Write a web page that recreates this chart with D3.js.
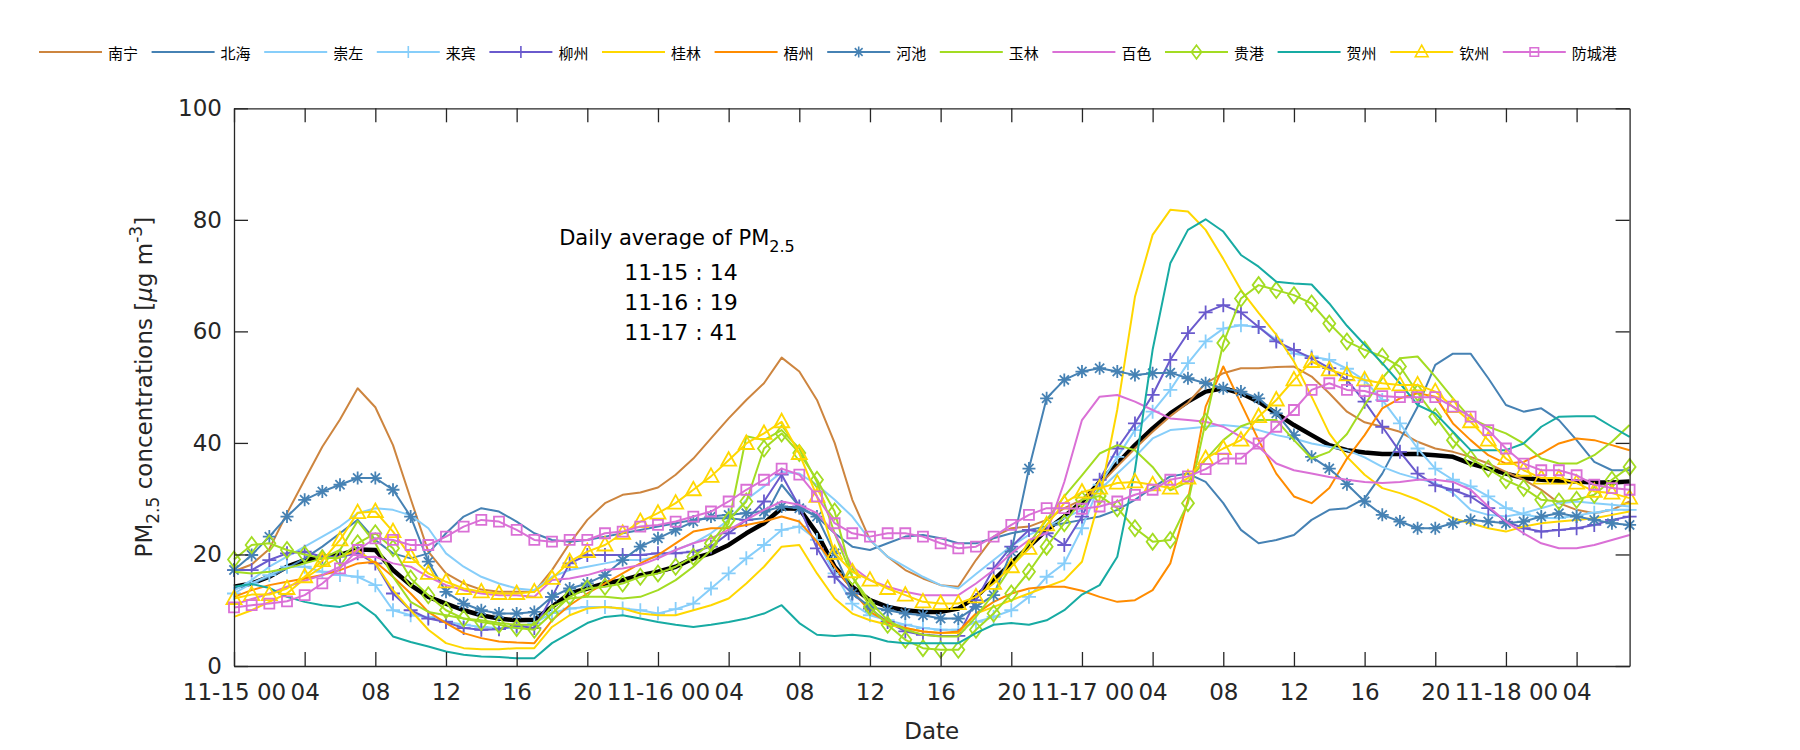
<!DOCTYPE html>
<html><head><meta charset="utf-8">
<script src="https://cdnjs.cloudflare.com/ajax/libs/d3/7.8.5/d3.min.js"></script>
<style>body{margin:0;background:#fff}svg{display:block}</style>
</head><body>
<svg id="c" width="1800" height="750"></svg>
<script>
// ---------------- DATA ----------------
const hours = d3.range(0, 80); // hourly index from 11-15 00
const xTickHours = [0,4,8,12,16,20,24,28,32,36,40,44,48,52,56,60,64,68,72,76];
const xTickLabels = ["11-15 00","04","08","12","16","20","11-16 00","04","08","12","16","20","11-17 00","04","08","12","16","20","11-18 00","04"];
const yTicks = [0,20,40,60,80,100];

const cities = ["南宁","北海","崇左","来宾","柳州","桂林","梧州","河池","玉林","百色","贵港","贺州","钦州","防城港"];
const colors = ["#cd853f","#4682b4","#87cefa","#87cefa","#6a5acd","#ffd700","#ff8c00","#4682b4","#a3dc22","#da70d6","#a3dc22","#17aba3","#ffd700","#da70d6"];
const markers = ["none","none","none","plus","plus","none","none","star","none","none","diamond","none","triangle","square"];

const nanning = [17,18.2,21,27.4,33.4,39.3,44.2,49.8,46.4,39.6,
 30,20.5,16.6,14.8,13.7,13.3,13.3,13.3,17.2,22,
 26.2,29.2,30.7,31.1,32,34.3,37.2,40.8,44.4,47.7,
 50.7,55.3,52.8,47.7,40,29.8,22.6,19.6,17.2,15.7,
 14.5,14.2,19,23.2,24.7,25,26.2,28.3,29.8,32.5,
 35.8,39,42,44.8,47.2,50.7,52.5,53.4,53.4,53.6,
 53.7,51.9,48.9,45.6,43.7,42.9,42,40.2,39,38.4,
 37.5,36.3,34.8,33.4,31.6,29.2,28,27.4,28,29.5];
const beihai = [13.8,14.8,16,17.5,19.3,21.4,23.8,26.2,22.6,20.2,
 19.3,20.2,23.8,26.8,28.3,27.7,25.9,23.8,22.6,22.3,
 22.6,23.2,23.8,24.4,25,25.6,26.2,26.5,26.5,26.2,
 26.5,32.5,28.6,26.8,23.8,21.4,20.8,22,23.2,23.5,
 22.9,22,22,22.9,23.8,24.4,25,25.6,26.2,26.8,
 28,29.8,32,34,34.5,33,29.2,24.4,22,22.6,
 23.5,26.2,28,28.3,30,34.5,40.5,46.5,54,56,
 56,51.6,46.8,45.6,46.2,44.1,40.5,36.6,35.1,35.1];
const chongzuo = [13.5,15.4,17.8,19.6,21.4,23.2,25,27.4,28.3,28,
 27,24.7,20.2,17.8,16,14.8,13.9,13.6,16,17.2,
 17.8,18.4,19,19,19.6,20.8,22,23.8,26.2,29.8,
 32.2,34.8,34.5,32.5,29.8,26.8,22.6,19.6,17.8,16,
 14.5,13.9,16.5,19,21.5,23.5,25,26.5,28,31.6,
 34.5,37.5,40.8,42.3,42.6,42.9,43.2,42.9,42.3,41.4,
 40.8,39.9,39.3,38.7,37.4,35.7,34.5,33.6,32.8,31,
 28,27.1,26.8,27.4,28.3,29.2,29.5,29.2,28.9,28.6];
const laibin = [13,14.8,16.3,17.8,17.8,16.9,16.3,16,14.5,10,
 9.1,8.8,8,7.4,7,6.8,6.8,7.7,9.5,10.3,
 10.6,10.6,10.3,10,9.4,10.2,11.2,13.9,16.6,19.3,
 21.7,24.4,25,22.6,16.6,11.2,9.1,8.2,7.4,6.8,
 6.5,6.5,7.9,8.8,10,12.4,16,18.4,24.7,32.5,
 37.5,42.3,45.6,49.5,54.3,58.2,60.5,61.1,60.8,58.5,
 56,55.5,54.9,53.3,51.2,47.7,43.5,39,35.4,33.4,
 32.2,30.4,28.3,27.2,26.6,26.5,27,27.5,28,28];
const liuzhou = [17.2,17.2,19,20.2,20.5,19.6,19.6,20.2,18.4,13,
 10,8.5,7.9,6.8,6.5,6.6,7.2,6.8,12.4,18.4,
 19.9,19.9,19.9,19.9,20.2,20.2,20.5,21.4,23.8,26.2,
 29.5,34.3,28.6,21.1,16,13,10.3,7.9,6.2,5.6,
 5.4,5.4,11.8,17.5,21.4,24.4,23.8,21.7,26.8,33.4,
 39,43.5,48.6,54.9,59.7,63.4,64.7,63.4,60.8,58.2,
 56.7,55.2,53.4,51.3,47.4,42.9,38.4,34.5,32.4,31.6,
 30.4,28.3,25.9,24.7,24.1,24.4,24.7,25.3,26.2,26.8];
const guilin = [8.8,10,11.5,13,15.7,17.8,19.6,20.8,18.4,13.6,
 10,6.5,4.1,3.2,3,3,3.2,3.2,7,9.1,
 10.3,10.6,10.3,9.4,9.1,9.1,10,10.9,12.1,14.8,
 17.8,21.4,21.7,16.6,12.1,9.4,8.2,7.4,6.8,6.2,
 5.9,5.9,9.4,10.6,11.8,13,14.2,15.4,18.7,30,
 46,66.2,77.3,81.8,81.5,78.2,73,67.4,63.3,59.4,
 54.6,48.3,41.7,37.5,34.3,31.9,31,29.8,28.3,26.5,
 25.6,24.7,24.1,25,25.6,25.9,26.2,26.5,27.1,27.7];
const wuzhou = [12.4,13.6,14.5,15.1,15.7,16.3,17.2,18.4,18.7,16,
 13,9.7,7.7,5.9,5,4.4,4.2,4.1,8.2,10.9,
 13,14.8,16.6,18.4,19.9,22,24.1,24.7,24.7,25.3,
 25.9,26.8,25.9,22.3,17.8,13.6,9.7,7.9,6.8,6.2,
 5.9,6.2,9.4,11.5,13,13.9,14.2,14.2,13.5,12.4,
 11.5,11.8,13.6,18.4,29.8,46.5,53.7,47.1,40.5,34.5,
 30.4,29.2,31.9,37.2,41.4,46.2,48,48.9,48.3,43.5,
 40.5,37.8,36.3,36.6,38.1,39.9,40.8,40.5,39.6,38.7];
const hechi = [17.2,19.9,23.2,26.8,29.8,31.3,32.5,33.7,33.7,31.6,
 26.8,18.7,13.3,11.2,10,9.4,9.4,9.7,12.4,13.9,
 14.8,16.3,19,21.4,22.9,24.4,25.9,26.8,27.1,27.4,
 27.7,28.6,28.3,26.8,20.2,13,10.6,10,9.4,9.1,
 8.5,8.5,10.6,12.7,20.5,35.4,48,51.3,52.8,53.4,
 52.8,52.2,52.5,52.6,51.6,50.7,49.8,49.2,48,45.3,
 41.4,37.5,35.4,32.6,29.5,27.1,25.9,24.7,24.7,25.6,
 26.2,25.9,25.6,25.9,26.8,27.4,26.8,26.2,25.6,25.3];
const yulin = [16.9,16.6,16.9,17.5,18.4,19.3,20.8,26,22,16,
 11.5,9.7,9.1,8.5,8.2,7.7,7.4,7.4,10.6,12.1,
 12.4,12.4,12.1,12.4,13.6,15.4,17.8,20.8,25.6,41.2,
 40.5,42.3,39,33,23.8,16,11.5,8.2,6.5,5.6,
 5.3,5.3,8.8,13,17.8,22,26.2,30.4,34.2,38.1,
 39.6,38.7,35.7,31.5,33,37,40.5,43,44.1,44.1,
 40.5,37.2,38.4,41.6,46.8,51.6,55.2,55.5,51.9,48,
 44.4,42.9,41.7,39.9,37.2,36.3,36.3,37.8,40.2,43.2];
const baise = [11,12,13,14.2,15.3,16.3,17.8,19.5,19.6,18.4,
 17.8,16,14.5,13.6,13,12.7,12.7,12.4,15.4,15.7,
 16.3,17.2,17.5,18.1,19.3,20.8,22,22.9,24.4,26.2,
 28,29.5,28.9,27.4,23.8,17.8,15.4,14.2,13.3,12.7,
 12.7,12.7,14.8,17.2,20.2,22.6,23.8,33,44.1,48.3,
 48.6,47.4,45.9,44.4,44.1,43.8,42.9,41.1,39.3,36.3,
 35.1,34.5,33.9,33.4,33,32.8,33,33.4,33.4,33,
 31.6,28.6,25.9,23.8,22,21.1,21.1,21.7,22.6,23.5];
const guigang = [19.1,21.7,22,20.8,20,19.3,19.4,22,23.8,21.1,
 15.7,12.7,10,8.5,7.9,7.4,6.8,6.5,9.4,12.4,
 13.9,14.2,14.8,16,16.6,17.8,19.6,22,26.2,29.5,
 39,41.7,38.2,33.4,27.7,16,10.6,7.4,4.7,3.2,
 2.9,2.9,6.5,9.4,13,16.9,21.4,25.6,29.8,30.5,
 28.3,24.7,22.3,22.6,29.2,43.8,57.9,65.9,68.3,67.4,
 66.5,65,61.4,58.2,56.7,55.5,53.7,49,44.7,40.5,
 37.2,35.4,33.3,31.9,29.8,29.5,29.8,30.7,33.4,35.7];
const hezhou = [14.2,14.7,14,12.4,11.5,10.9,10.6,11.4,9.1,5.3,
 4.3,3.5,2.6,2,1.7,1.6,1.4,1.4,4.1,5.9,
 7.7,8.8,9.1,8.5,7.9,7.4,7,7.4,7.9,8.5,
 9.4,10.9,7.7,5.6,5.4,5.6,5.3,4.4,4.1,4.1,
 4.1,4.1,5.9,7.4,7.7,7.4,8.2,10,12.8,14.5,
 19.6,35.1,56.7,72.2,78.2,80.1,77.9,73.7,71.6,68.9,
 68.6,68.4,65,61,57.6,54.3,50.7,46.8,45.3,42,
 38.7,38.7,38.7,39.9,42.9,44.7,44.8,44.8,42.9,41.1];
const qinzhou = [12.1,12.8,12.8,13.9,16,18.9,22.6,27.5,27.7,24.1,
 19.6,16.6,15.1,13.9,13.3,13,13,13.3,15.7,18.7,
 20.5,21.7,23.8,25.9,27.4,29.2,31.6,34,36.9,39.9,
 41.7,43.8,38.1,30.4,20.2,16.9,15.4,13.9,12.7,11.5,
 11.2,11.2,12.4,14.8,17.8,21.1,25.3,29.2,31.2,31.9,
 32.8,33,32.5,31.9,33.7,37.2,39,40.5,44.7,47.7,
 51.3,54.6,53.1,52.2,51.3,50.7,50.4,50.4,49.2,46.5,
 43.8,40.5,37.2,35.1,33.7,33.7,32.8,31.3,31,30.1];
const fangchenggang = [10.5,10.9,11.2,11.6,12.7,14.8,17.5,20.8,22.9,22.6,
 21.7,21.7,23.2,25,26.2,25.9,24.4,22.6,22.3,22.6,
 22.6,23.8,24.1,25,25.3,25.9,26.8,27.7,29.5,31.6,
 33.4,35.4,34.3,30.4,25.6,23.8,23.2,23.8,23.8,23.2,
 22,21.1,21.4,23.2,25.3,27.1,28.3,28.3,28.2,28.6,
 29.5,30.7,31.6,33.4,34,35.3,37.2,37.2,39.9,42.9,
 45.9,49.5,50.7,49.5,49.3,48.4,48.2,48.2,48.2,46.5,
 44.7,42.3,39,36.3,35.1,35.1,34.2,32.5,31.9,31.6];
const average = [14.2,14.8,16,17.8,19,19.6,19.9,20.9,20.8,17.2,
 14.5,12.4,11.2,10,9.1,8.5,8.2,8.3,10.6,13,
 13.9,14.8,15.4,16.3,16.9,17.8,19.3,20.2,21.7,23.8,
 25.6,28.3,28.2,23.8,17.8,14.2,11.8,10.6,10,9.7,
 9.7,10.3,12.4,15.4,18.4,21.4,24.4,26.8,29.4,33,
 36.3,39.6,42.6,45.3,47.4,49.2,49.8,48.9,47.4,45.3,
 43.2,41.4,39.6,38.7,38.3,38,38,38,37.8,37.5,
 36.3,35.4,34.5,33.7,33.4,33.2,33.1,32.9,32.9,33.1];

const seriesValues = [nanning,beihai,chongzuo,laibin,liuzhou,guilin,wuzhou,hechi,yulin,baise,guigang,hezhou,qinzhou,fangchenggang];
const annotationLines = ["11-15 : 14","11-16 : 19","11-17 : 41"];

seriesValues.concat([average]).forEach((a,i)=>{ if(a.length!==80) throw new Error("series "+i+" has length "+a.length); });

// ---------------- CHART ----------------
const svg = d3.select("#c");
const FONT = "'DejaVu Sans', sans-serif";
const axisColor = "#262626";
const x = d3.scaleLinear().domain([0,79]).range([234,1629.6]);
const y = d3.scaleLinear().domain([0,100]).range([666,108.3]);

const line = d3.line().x((d,i)=>x(hours[i])).y(d=>y(d));

function markerPath(type, cx, cy, s){
  s = s || 1;
  const p = d3.path();
  if(type==="plus"){ const r=7*s; p.moveTo(cx-r,cy); p.lineTo(cx+r,cy); p.moveTo(cx,cy-r); p.lineTo(cx,cy+r); }
  else if(type==="star"){ const r=6.5*s, q=4.6*s; p.moveTo(cx-r,cy); p.lineTo(cx+r,cy); p.moveTo(cx,cy-r); p.lineTo(cx,cy+r);
    p.moveTo(cx-q,cy-q); p.lineTo(cx+q,cy+q); p.moveTo(cx-q,cy+q); p.lineTo(cx+q,cy-q); }
  else if(type==="diamond"){ p.moveTo(cx,cy-8*s); p.lineTo(cx+6*s,cy); p.lineTo(cx,cy+8*s); p.lineTo(cx-6*s,cy); p.closePath(); }
  else if(type==="triangle"){ p.moveTo(cx,cy-8*s); p.lineTo(cx+7.5*s,cy+5.5*s); p.lineTo(cx-7.5*s,cy+5.5*s); p.closePath(); }
  else if(type==="square"){ p.rect(cx-5*s,cy-5*s,10*s,10*s); }
  return p.toString();
}

const plot = svg.append("g");

// average (thick black)
plot.append("path").datum(average).attr("d",line)
  .attr("fill","none").attr("stroke","#000").attr("stroke-width",4.5).attr("stroke-linejoin","round");

seriesValues.forEach((vals,si)=>{
  const g = plot.append("g");
  g.append("path").datum(vals).attr("d",line).attr("fill","none")
    .attr("stroke",colors[si]).attr("stroke-width",2).attr("stroke-linejoin","round");
  if(markers[si]!=="none"){
    g.selectAll("path.m").data(vals).join("path").attr("class","m")
      .attr("d",(d,i)=>markerPath(markers[si], x(hours[i]), y(d)))
      .attr("fill","none").attr("stroke",colors[si]).attr("stroke-width",1.8);
  }
});

// axes
function styleAxis(g){
  g.selectAll("path.domain").attr("stroke",axisColor).attr("stroke-width",1.3);
  g.selectAll(".tick line").attr("stroke",axisColor).attr("stroke-width",1.3);
  g.selectAll(".tick text").attr("fill",axisColor).attr("font-family",FONT).attr("font-size",23);
}
const xb = svg.append("g").attr("transform",`translate(0,${y(0)})`)
  .call(d3.axisBottom(x).tickValues(xTickHours).tickSize(-14).tickSizeOuter(0).tickPadding(18)
    .tickFormat((d,i)=>xTickLabels[i]));
styleAxis(xb);
const xt = svg.append("g").attr("transform",`translate(0,${y(100)})`)
  .call(d3.axisTop(x).tickValues(xTickHours).tickSize(-14).tickSizeOuter(0).tickFormat(""));
styleAxis(xt);
const yl = svg.append("g").attr("transform",`translate(${x(0)},0)`)
  .call(d3.axisLeft(y).tickValues(yTicks).tickSize(-14).tickSizeOuter(0).tickPadding(12));
styleAxis(yl);
const yr = svg.append("g").attr("transform",`translate(${x(79)},0)`)
  .call(d3.axisRight(y).tickValues(yTicks).tickSize(-14).tickSizeOuter(0).tickFormat(""));
styleAxis(yr);

// axis labels
svg.append("text").attr("x",(x(0)+x(79))/2).attr("y",739).attr("text-anchor","middle")
  .attr("font-family",FONT).attr("font-size",23).attr("fill",axisColor).text("Date");

const ylab = svg.append("text").attr("transform",`translate(152,${(y(0)+y(100))/2}) rotate(-90)`)
  .attr("text-anchor","middle").attr("font-family",FONT).attr("font-size",23).attr("fill",axisColor);
ylab.append("tspan").text("PM");
ylab.append("tspan").attr("dy",7).attr("font-size",17).text("2.5");
ylab.append("tspan").attr("dy",-7).text(" concentrations [");
ylab.append("tspan").attr("font-style","italic").text("μ");
ylab.append("tspan").text("g m");
ylab.append("tspan").attr("dy",-10).attr("font-size",17).text("-3");
ylab.append("tspan").attr("dy",10).text("]");

// annotation
const ann = svg.append("text").attr("x",677).attr("y",245).attr("text-anchor","middle")
  .attr("font-family",FONT).attr("font-size",21).attr("fill","#000");
ann.append("tspan").text("Daily average of PM");
ann.append("tspan").attr("dy",7).attr("font-size",16).text("2.5");
annotationLines.forEach((t,i)=>{
  svg.append("text").attr("x",681).attr("y",280+i*30).attr("text-anchor","middle")
    .attr("font-family",FONT).attr("font-size",22).attr("fill","#000").text(t);
});

// legend
const lg = svg.append("g");
cities.forEach((name,i)=>{
  const x0 = 39 + i*112.6, yc = 52;
  const g = lg.append("g");
  g.append("line").attr("x1",x0).attr("x2",x0+63).attr("y1",yc).attr("y2",yc)
    .attr("stroke",colors[i]).attr("stroke-width",1.8);
  if(markers[i]!=="none"){
    g.append("path").attr("d",markerPath(markers[i],x0+31.5,yc,0.85)).attr("fill","none")
      .attr("stroke",colors[i]).attr("stroke-width",1.6);
  }
  g.append("text").attr("x",x0+69).attr("y",yc).attr("dominant-baseline","central")
    .attr("font-family","'Noto Sans CJK SC', sans-serif").attr("font-size",15).attr("fill","#000").text(name);
});
</script>
</body></html>
